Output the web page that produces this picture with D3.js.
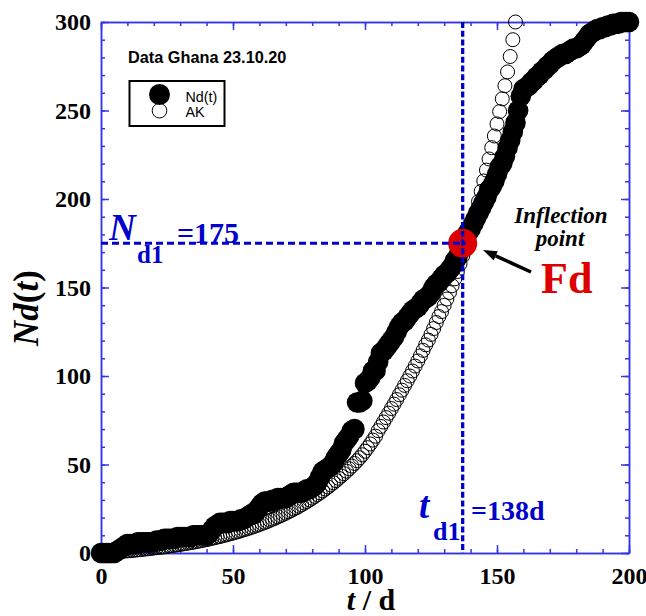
<!DOCTYPE html>
<html><head><meta charset="utf-8">
<script src="https://cdn.jsdelivr.net/npm/d3@7/dist/d3.min.js"></script>
<style>html,body{margin:0;padding:0;background:#fff;} svg{display:block}</style>
</head><body><svg id="chart" width="646" height="616"></svg>
<script>
// ---- data ----
const ndValues = [
0,0,0,0,0,0,1,2,3,4,
5,5,5,5,6,6,6,6,6,6,
6,7,7,7,8,8,8,8,8,9,
9,9,9,9,9,10,10,10,10,10,
10,11,13,15,16,17,17,17,17,18,
18,18,18,19,19,20,21,22,22,24,
26,28,29,29,29,30,30,31,31,31,
31,32,33,34,34,34,34,35,36,36,
37,38,40,43,46,47,48,49,51,54,
56,58,62,64,66,69,70,85,85,86,
96,97,99,103,103,108,113,114,116,118,
120,122,125,128,130,131,133,135,137,138,
139,141,143,144,145,147,150,152,153,155,
157,158,160,162,165,167,171,175,178,181,
183,186,189,192,195,198,201,205,207,210,
214,218,220,224,229,233,238,243,250,258,
262,263,264,266,267,269,270,272,273,275,
276,278,279,280,281,282,282,283,284,285,
285,286,287,289,291,293,294,295,296,296,
297,297,298,298,299,299,299,300,300,300,
300];
const ndDays = d3.range(0, ndValues.length);

const akValues = [
0,0.1,0.2,0.3,0.4, 0.6,0.7,0.8,0.9,1.1,
1.2,1.3,1.5,1.6,1.8, 1.9,2.1,2.3,2.4,2.6,
2.8,3.0,3.1,3.3,3.5, 3.7,4.0,4.2,4.4,4.6,
4.9,5.1,5.4,5.6,5.9, 6.1,6.4,6.7,7.0,7.3,
7.6,7.9,8.3,8.6,9.0, 9.3,9.7,10.1,10.5,10.9,
11.3,11.7,12.1,12.6,13.1, 13.5,14.0,14.5,15.0,15.6,
16.1,16.7,17.3,17.8,18.5, 19.1,19.7,20.4,21.1,21.8,
22.5,23.3,24.0,24.8,25.6, 26.4,27.3,28.2,29.1,30.0,
31.0,32.0,33.0,34.0,35.1, 36.2,37.3,38.5,39.7,40.9,
42.2,43.5,44.8,46.2,47.6, 49.1,50.6,52.1,53.8,55.5,
57.5,59.5,61.6,63.8,66.0, 69.1,71.5,74.0,76.5,79.0,
81.6,84.1,86.7,89.4,92.0, 94.7,97.3,100.0,102.8,105.6,
108.5,111.4,114.5,117.6,120.3, 123.5,126.8,130.2,133.6,136.4,
139.9,143.5,147.2,151.0,154.9, 159.0,163.4,167.8,172.4,177.2,
182.3,187.6,193.0,198.6,204.3, 210.2,216.3,222.6,229.0,235.6,
242.4,249.4,256.6,264.0,271.8, 280.5,290.0,300.0];
const akDays = d3.range(0, akValues.length);

const xTicks = [0, 50, 100, 150, 200];
const yTicks = [0, 50, 100, 150, 200, 250, 300];
const inflection = { t: 137, n: 175 };
const seriesNames = ["Nd(t)", "AK"];
const titleText = "Data Ghana 23.10.20";

// ---- layout ----
const svg = d3.select("#chart");
const x = d3.scaleLinear().domain([0, 200]).range([101, 629]);
const y = d3.scaleLinear().domain([0, 300]).range([553, 22]);
const axisColor = "#3535e6";
const serif = "'Liberation Serif','Times New Roman',serif";
const sans = "'Liberation Sans',Arial,sans-serif";

function styleAxis(g) {
  g.selectAll("path,line").attr("stroke", axisColor).attr("stroke-width", 1.5);
  g.selectAll("text").attr("font-family", serif).attr("font-weight", "bold")
    .attr("font-size", 24).attr("fill", "#000");
}
const minorX = d3.range(0, 201, 10), minorY = d3.range(0, 301, 10);

// bottom
svg.append("g").attr("transform", `translate(0,${y(0)})`)
  .call(d3.axisBottom(x).tickValues(minorX).tickSizeInner(-4).tickSizeOuter(0).tickFormat(""))
  .call(styleAxis);
svg.append("g").attr("transform", `translate(0,${y(0)})`)
  .call(d3.axisBottom(x).tickValues(xTicks).tickSizeInner(-8).tickSizeOuter(0).tickPadding(14).tickFormat(d3.format("d")))
  .call(styleAxis);
// top
svg.append("g").attr("transform", `translate(0,${y(300)})`)
  .call(d3.axisTop(x).tickValues(minorX).tickSizeInner(-4).tickSizeOuter(0).tickFormat(""))
  .call(styleAxis);
svg.append("g").attr("transform", `translate(0,${y(300)})`)
  .call(d3.axisTop(x).tickValues(xTicks).tickSizeInner(-8).tickSizeOuter(0).tickFormat(""))
  .call(styleAxis);
// left
svg.append("g").attr("transform", `translate(${x(0)},0)`)
  .call(d3.axisLeft(y).tickValues(minorY).tickSizeInner(-4).tickSizeOuter(0).tickFormat(""))
  .call(styleAxis);
svg.append("g").attr("transform", `translate(${x(0)},0)`)
  .call(d3.axisLeft(y).tickValues(yTicks).tickSizeInner(-8).tickSizeOuter(0).tickPadding(10).tickFormat(d3.format("d")))
  .call(styleAxis);
// right
svg.append("g").attr("transform", `translate(${x(200)},0)`)
  .call(d3.axisRight(y).tickValues(minorY).tickSizeInner(-4).tickSizeOuter(0).tickFormat(""))
  .call(styleAxis);
svg.append("g").attr("transform", `translate(${x(200)},0)`)
  .call(d3.axisRight(y).tickValues(yTicks).tickSizeInner(-8).tickSizeOuter(0).tickFormat(""))
  .call(styleAxis);

// ---- series ----
svg.append("g").selectAll("circle").data(akDays).join("circle")
  .attr("cx", d => x(d)).attr("cy", (d, i) => y(akValues[i])).attr("r", 7)
  .attr("fill", "none").attr("stroke", "#000").attr("stroke-width", 1);

svg.append("g").selectAll("circle").data(ndDays).join("circle")
  .attr("cx", d => x(d)).attr("cy", (d, i) => y(ndValues[i])).attr("r", 10.3)
  .attr("fill", "#000");

// inflection point
svg.append("circle").attr("cx", x(inflection.t)).attr("cy", y(inflection.n)).attr("r", 14.5)
  .attr("fill", "#dd0000");

// dashed guide lines
const blue = "#0000cc";
svg.append("line").attr("x1", x(0)).attr("x2", x(inflection.t) + 3)
  .attr("y1", y(inflection.n)).attr("y2", y(inflection.n))
  .attr("stroke", blue).attr("stroke-width", 3).attr("stroke-dasharray", "7,4");
svg.append("line").attr("x1", x(inflection.t)).attr("x2", x(inflection.t))
  .attr("y1", y(300)).attr("y2", y(0))
  .attr("stroke", blue).attr("stroke-width", 3.3).attr("stroke-dasharray", "6,2.7");

// ---- texts ----
svg.append("text").attr("x", 128).attr("y", 63).attr("font-family", sans)
  .attr("font-weight", "bold").attr("font-size", 16.3).text(titleText);

// legend
svg.append("rect").attr("x", 129.5).attr("y", 81).attr("width", 95).attr("height", 45)
  .attr("fill", "none").attr("stroke", "#000").attr("stroke-width", 2);
svg.append("circle").attr("cx", 159.5).attr("cy", 94.5).attr("r", 10.5).attr("fill", "#000");
svg.append("circle").attr("cx", 159.5).attr("cy", 110.7).attr("r", 7.3).attr("fill", "none")
  .attr("stroke", "#000").attr("stroke-width", 1);
svg.append("text").attr("x", 185.5).attr("y", 101.5).attr("font-family", sans).attr("font-size", 14.3).text(seriesNames[0]);
svg.append("text").attr("x", 185.5).attr("y", 116.5).attr("font-family", sans).attr("font-size", 14.3).text(seriesNames[1]);

// axis titles
const yt = svg.append("text").attr("transform", "translate(38,308) rotate(-90)")
  .attr("text-anchor", "middle").attr("font-family", serif).attr("font-weight", "bold").attr("font-size", 35);
yt.append("tspan").attr("font-style", "italic").text("Nd");
yt.append("tspan").text("(");
yt.append("tspan").attr("font-style", "italic").text("t");
yt.append("tspan").text(")");

const xt = svg.append("text").attr("x", 371).attr("y", 610).attr("text-anchor", "middle")
  .attr("font-family", serif).attr("font-weight", "bold").attr("font-size", 30);
xt.append("tspan").attr("font-style", "italic").text("t");
xt.append("tspan").text(" / d");

// N_d1 = 175
svg.append("text").attr("x", 109).attr("y", 240).attr("font-family", serif).attr("font-weight", "bold")
  .attr("font-style", "italic").attr("font-size", 37).attr("fill", blue).text("N");
svg.append("text").attr("x", 137).attr("y", 263).attr("font-family", serif).attr("font-weight", "bold")
  .attr("font-size", 25).attr("fill", blue).text("d1");
svg.append("text").attr("x", 177).attr("y", 243).attr("font-family", serif).attr("font-weight", "bold")
  .attr("font-size", 30).attr("fill", blue).text("=175");

// t_d1 = 138d
svg.append("text").attr("x", 419).attr("y", 518).attr("font-family", serif).attr("font-weight", "bold")
  .attr("font-style", "italic").attr("font-size", 37).attr("fill", blue).text("t");
svg.append("text").attr("x", 433).attr("y", 540).attr("font-family", serif).attr("font-weight", "bold")
  .attr("font-size", 26).attr("fill", blue).text("d1");
svg.append("text").attr("x", 471).attr("y", 520).attr("font-family", serif).attr("font-weight", "bold")
  .attr("font-size", 28).attr("fill", blue).text("=138d");

// inflection annotation
svg.append("text").attr("x", 561).attr("y", 223).attr("text-anchor", "middle").attr("font-family", serif)
  .attr("font-weight", "bold").attr("font-style", "italic").attr("font-size", 23).text("Inflection");
svg.append("text").attr("x", 560).attr("y", 246).attr("text-anchor", "middle").attr("font-family", serif)
  .attr("font-weight", "bold").attr("font-style", "italic").attr("font-size", 23).text("point");
svg.append("text").attr("x", 541).attr("y", 293).attr("font-family", serif)
  .attr("font-weight", "bold").attr("font-size", 44).attr("fill", "#dd0000").text("Fd");

// arrow
const tip = [483, 250], tail = [531, 272];
const dx = tip[0] - tail[0], dy = tip[1] - tail[1], L = Math.hypot(dx, dy);
const ux = dx / L, uy = dy / L, hl = 14, hw = 5;
const bx = tip[0] - ux * hl, by = tip[1] - uy * hl;
svg.append("line").attr("x1", tail[0]).attr("y1", tail[1]).attr("x2", bx).attr("y2", by)
  .attr("stroke", "#000").attr("stroke-width", 3.5);
svg.append("path").attr("d", `M${tip[0]},${tip[1]} L${bx - uy * hw},${by + ux * hw} L${bx + uy * hw},${by - ux * hw} Z`)
  .attr("fill", "#000");
</script></body></html>
